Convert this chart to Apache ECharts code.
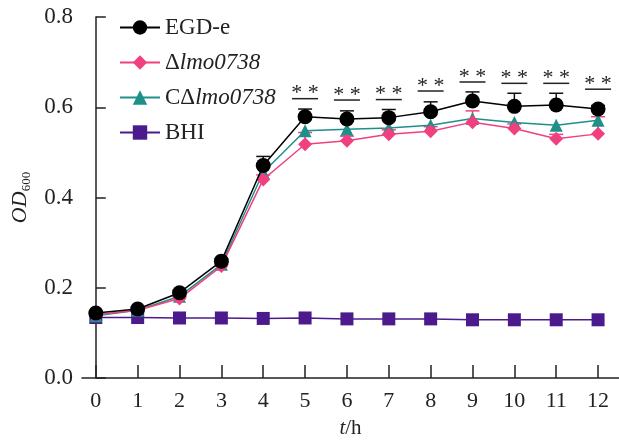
<!DOCTYPE html>
<html lang="en">
<head>
    <meta charset="UTF-8">
    <title>OD600</title>
    <script src="https://cdn.jsdelivr.net/npm/echarts@6/dist/echarts.min.js"></script>
</head>
<style>
    body { margin: 0; background: #fff; }
</style>
<body>
    <div id="box" style="width:619px;height:441px"></div>
</body>
<script>
    // 时间点
    const hours = [0, 1, 2, 3, 4, 5, 6, 7, 8, 9, 10, 11, 12];
    const yTicks = [0, 0.2, 0.4, 0.6, 0.8];
    // OD600
    const egd = [0.144, 0.153, 0.189, 0.259, 0.471, 0.579, 0.574, 0.577, 0.59, 0.614, 0.602, 0.605, 0.596];
    const egdErr = [0.004, 0.004, 0.005, 0.005, 0.02, 0.017, 0.018, 0.018, 0.022, 0.02, 0.029, 0.026, 0.008];
    const mut = [0.14, 0.15, 0.176, 0.248, 0.44, 0.518, 0.526, 0.54, 0.547, 0.567, 0.553, 0.53, 0.541];
    const mutErr = [0.003, 0.003, 0.004, 0.004, 0.01, 0.026, 0.01, 0.01, 0.01, 0.025, 0.01, 0.01, 0.038];
    const comp = [0.138, 0.15, 0.181, 0.252, 0.456, 0.548, 0.551, 0.554, 0.56, 0.575, 0.566, 0.56, 0.571];
    const bhi = [0.134, 0.134, 0.133, 0.133, 0.132, 0.133, 0.131, 0.131, 0.131, 0.129, 0.129, 0.129, 0.129];
    // 显著性标记位置
    const sigHours = [5, 6, 7, 8, 9, 10, 11, 12];
    const sigY = [0.619, 0.616, 0.617, 0.636, 0.656, 0.653, 0.653, 0.64];

    const FONT = 'Liberation Serif';
    const PINK = '#f0407f';
    const TEAL = '#1f8f8a';
    const PURPLE = '#4b1b8e';

    function pts(arr) {
        return arr.map((v, i) => [hours[i], v]);
    }

    function errSeries(vals, errs, color) {
        return {
            type: 'custom',
            silent: true,
            z: 1,
            data: vals.map((v, i) => [hours[i], v, v + errs[i]]),
            renderItem: function (params, api) {
                const p0 = api.coord([api.value(0), api.value(1)]);
                const p1 = api.coord([api.value(0), api.value(2)]);
                const st = { stroke: color, lineWidth: 1.5 };
                return {
                    type: 'group',
                    children: [
                        { type: 'line', shape: { x1: p0[0], y1: p0[1], x2: p1[0], y2: p1[1] }, style: st },
                        { type: 'line', shape: { x1: p1[0] - 7, y1: p1[1], x2: p1[0] + 7, y2: p1[1] }, style: st }
                    ]
                };
            }
        };
    }

    function lineSeries(name, data, symbol, size, color, z) {
        return {
            name: name,
            type: 'line',
            data: pts(data),
            symbol: symbol,
            symbolSize: size,
            z: z,
            lineStyle: { color: color, width: 1.5 },
            itemStyle: { color: color, opacity: 1 },
            emphasis: { disabled: true }
        };
    }

    var chart = echarts.init(document.getElementById('box'));
    var option = {
        animation: false,
        textStyle: { fontFamily: FONT },
        grid: { left: 82, right: 0, top: 17, bottom: 63, containLabel: false, outerBoundsMode: 'none' },
        legend: {
            orient: 'vertical',
            left: 114,
            top: 11,
            itemWidth: 40,
            itemHeight: 18,
            itemGap: 12,
            data: ['EGD-e', 'Δlmo0738', 'CΔlmo0738', 'BHI'],
            textStyle: {
                fontFamily: FONT,
                fontSize: 23,
                color: '#222',
                rich: { i: { fontFamily: FONT, fontSize: 23, fontStyle: 'italic', color: '#222' } }
            },
            formatter: function (name) {
                return name.replace('lmo0738', '{i|lmo0738}');
            }
        },
        xAxis: {
            type: 'value',
            min: -0.33,
            max: 12.5,
            name: '{i|t}/h',
            nameLocation: 'middle',
            nameGap: 40,
            nameTextStyle: {
                fontFamily: FONT, fontSize: 21, color: '#222',
                rich: { i: { fontFamily: FONT, fontSize: 21, fontStyle: 'italic', color: '#222' } }
            },
            splitLine: { show: false },
            axisLine: { lineStyle: { color: '#222', width: 1.5 } },
            axisTick: { inside: true, length: 13, customValues: hours, lineStyle: { color: '#222', width: 1.5 } },
            axisLabel: { customValues: hours, fontSize: 22, color: '#222', margin: 12, fontFamily: FONT }
        },
        yAxis: {
            type: 'value',
            min: 0,
            max: 0.8,
            interval: 0.2,
            name: '{i|OD}{s|600}',
            nameLocation: 'middle',
            nameRotate: 90,
            nameGap: 49,
            nameTextStyle: {
                fontFamily: FONT, color: '#222',
                rich: {
                    i: { fontFamily: FONT, fontSize: 22, fontStyle: 'italic', color: '#222' },
                    s: { fontFamily: FONT, fontSize: 13, color: '#222', padding: [12, 0, 0, 0] }
                }
            },
            splitLine: { show: false },
            axisLine: { show: true, lineStyle: { color: '#222', width: 1.5 } },
            axisTick: { show: true, inside: true, length: 10, lineStyle: { color: '#222', width: 1.5 } },
            axisLabel: {
                fontSize: 23, color: '#222', margin: 9, fontFamily: FONT,
                customValues: yTicks,
                formatter: v => v.toFixed(1)
            }
        },
        series: [
            errSeries(egd, egdErr, '#111'),
            errSeries(mut, mutErr, PINK),
            lineSeries('BHI', bhi, 'rect', 13, PURPLE, 2),
            lineSeries('CΔlmo0738', comp, 'triangle', 13, TEAL, 3),
            lineSeries('Δlmo0738', mut, 'diamond', 14, PINK, 4),
            lineSeries('EGD-e', egd, 'circle', 15, '#000', 5),
            {
                type: 'custom',
                silent: true,
                z: 6,
                data: sigHours.map((h, i) => [h, sigY[i]]),
                renderItem: function (params, api) {
                    const p = api.coord([api.value(0), api.value(1)]);
                    return {
                        type: 'group',
                        children: [
                            { type: 'line', shape: { x1: p[0] - 13, y1: p[1], x2: p[0] + 13, y2: p[1] }, style: { stroke: '#222', lineWidth: 1.5 } },
                            { type: 'text', x: p[0], y: p[1] + 6, style: { text: '* *', fontFamily: FONT, fontSize: 22, fill: '#222', align: 'center', verticalAlign: 'bottom' } }
                        ]
                    };
                }
            }
        ]
    };
    chart.setOption(option);
</script>
</html>
